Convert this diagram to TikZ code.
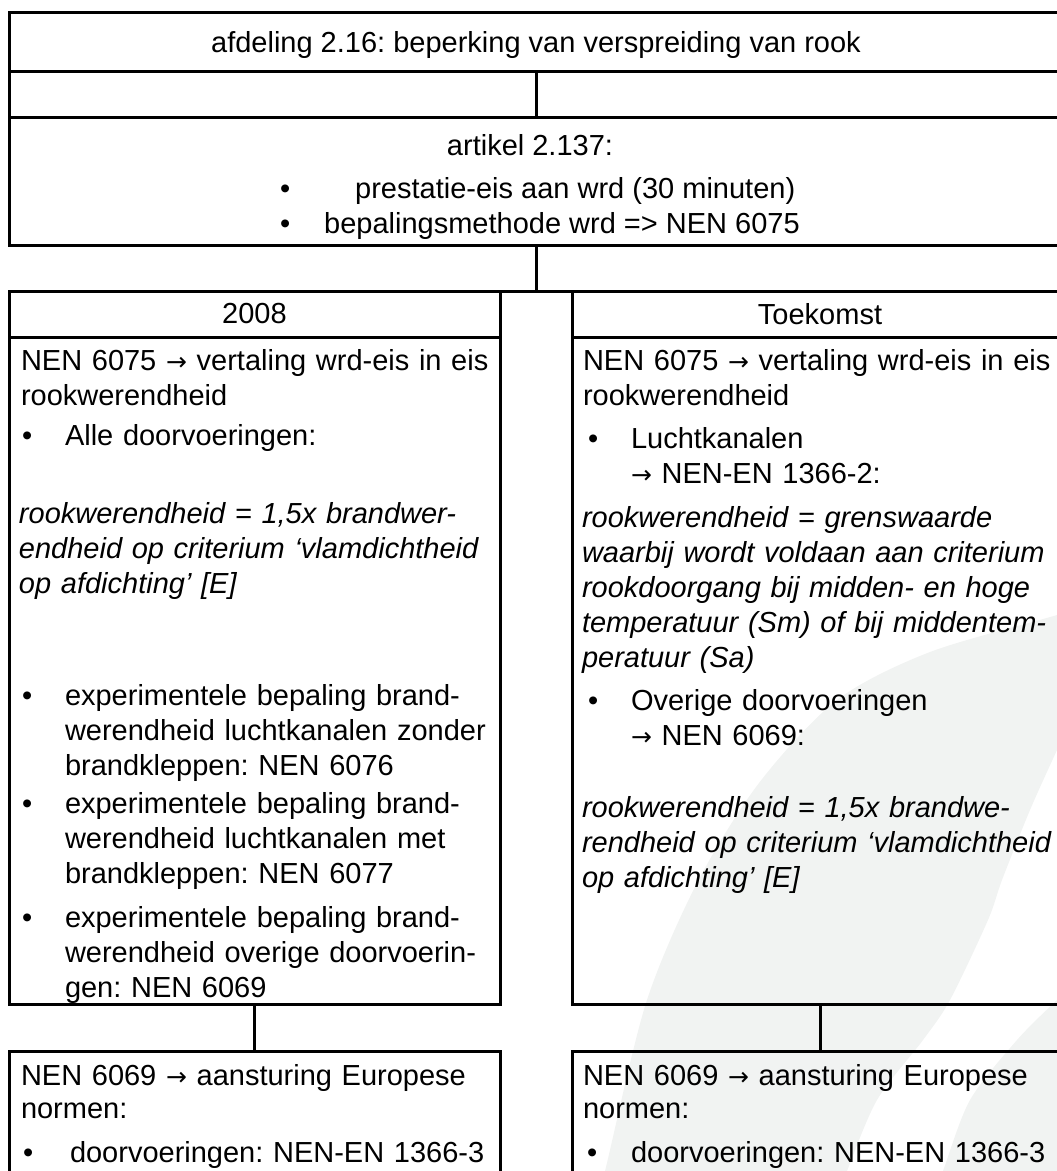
\documentclass[tikz,border=0pt]{standalone}
\usepackage{fontspec}
\setmainfont{Liberation Sans}
\newfontfamily\pijlfont{DejaVu Sans}
\usetikzlibrary{positioning}
\definecolor{wmgrey}{RGB}{241,243,242}
\newcommand{\nrm}{\fontsize{29}{35}\selectfont}
\newcommand{\pijl}{{\pijlfont\fontsize{25}{35}\selectfont →}}
\frenchspacing

\begin{document}
\begin{tikzpicture}[x=1pt,y=-1pt,
  box/.style={draw,line width=3pt,rectangle,inner sep=0pt,outer sep=0pt,anchor=north west,font=\nrm},
  txt/.style={anchor=base west,inner sep=0pt,outer sep=0pt,font=\nrm,text width=700pt,align=left},
  itxt/.style={txt,font=\nrm\itshape},
  bul/.style={anchor=base west,inner sep=0pt,font=\nrm},
  conn/.style={line width=3pt}]
  \useasboundingbox (0,0) rectangle (1057,1171);
  % watermark
  \fill[wmgrey] plot[smooth] coordinates {(596,1200) (605,1171) (646,1003) (697,883) (759,783) (837,700) (930,652) (1057,615) (1100,600)}
    -- (1100,720) -- plot[smooth] coordinates {(1080,700) (1057,750) (1030,810) (1002,880) (988,920) (950,1000) (923,1040) (877,1100) (847,1171) (836,1200)} -- cycle;
  \fill[wmgrey] plot[smooth] coordinates {(932,1200) (943,1171) (970,1100) (1017,1040) (1057,1000) (1090,970)} -- (1090,1200) -- cycle;
  % afdeling
  \node[box,minimum width=1054pt,minimum height=59pt,text depth=0pt] (afd) at (9,12) {afdeling 2.16: beperking van verspreiding van rook};
  \node[box,minimum width=1054pt,minimum height=46pt,below=0pt of afd] (rij) {};
  \node[box,minimum width=1054pt,minimum height=128pt,below=0pt of rij] (art) {};
  \draw[conn] (afd.south) -- (art.north);
  \node[anchor=base,inner sep=0pt,font=\nrm] (arttitel) at (530,155) {artikel 2.137:};
  \node[bul] (artb1) at (280,198) {•};
  \node[bul] (artt1) at (355,198) {prestatie-eis aan wrd (30 minuten)};
  \node[bul] (artb2) at (280,233) {•};
  \node[bul] (artt2) at (324,233) {bepalingsmethode wrd => NEN 6075};
  % 2008
  \node[box,minimum width=491pt,minimum height=46pt] (kop08) at (9,291) {2008};
  \node[box,minimum width=491pt,minimum height=667pt,below=0pt of kop08] (romp08) {};
  \node[txt] (a1) at (21,370) {NEN 6075 \pijl{} vertaling wrd-eis in eis\\rookwerendheid};
  \node[bul] (ab1) at (22,445) {•};
  \node[txt] (a2) at (65,445) {Alle doorvoeringen:};
  \node[itxt] (a3) at (19,523) {rookwerendheid = 1,5x brandwer-\\endheid op criterium ‘vlamdichtheid\\op afdichting’ [E]};
  \node[bul] (ab2) at (22,705) {•};
  \node[txt] (a4) at (65,705) {experimentele bepaling brand-\\werendheid luchtkanalen zonder\\brandkleppen: NEN 6076};
  \node[bul] (ab3) at (22,813) {•};
  \node[txt] (a5) at (65,813) {experimentele bepaling brand-\\werendheid luchtkanalen met\\brandkleppen: NEN 6077};
  \node[bul] (ab4) at (22,927) {•};
  \node[txt] (a6) at (65,927) {experimentele bepaling brand-\\werendheid overige doorvoerin-\\gen: NEN 6069};
  % toekomst
  \node[box,minimum width=496pt,minimum height=46pt] (koptk) at (572,291) {Toekomst};
  \node[box,minimum width=496pt,minimum height=667pt,below=0pt of koptk] (romptk) {};
  \node[txt] (t1) at (583,370) {NEN 6075 \pijl{} vertaling wrd-eis in eis\\rookwerendheid};
  \node[bul] (tb1) at (588,448) {•};
  \node[txt] (t2) at (631,448) {Luchtkanalen\\\pijl{} NEN-EN 1366-2:};
  \node[itxt] (t3) at (582,527) {rookwerendheid = grenswaarde\\waarbij wordt voldaan aan criterium\\rookdoorgang bij midden- en hoge\\temperatuur (Sm) of bij middentem-\\peratuur (Sa)};
  \node[bul] (tb2) at (588,710) {•};
  \node[txt] (t4) at (631,710) {Overige doorvoeringen\\\pijl{} NEN 6069:};
  \node[itxt] (t5) at (582,817) {rookwerendheid = 1,5x brandwe-\\rendheid op criterium ‘vlamdichtheid\\op afdichting’ [E]};
  % connectors
  \draw[conn] (art.south) -- (art.south |- kop08.north);
  \draw[conn] (kop08.north east) -- (koptk.north west);
  % europese normen
  \node[box,minimum width=491pt,minimum height=150pt] (eu08) at (9,1051) {};
  \node[box,minimum width=496pt,minimum height=150pt] (eutk) at (572,1051) {};
  \draw[conn] (romp08.south) -- (eu08.north);
  \draw[conn] (romptk.south) -- (eutk.north);
  \node[txt] (e1) at (21,1085) {NEN 6069 \pijl{} aansturing Europese\\[-2pt]normen:};
  \node[bul] (eb1) at (23,1162) {•};
  \node[txt] (e2) at (70,1162) {doorvoeringen: NEN-EN 1366-3};
  \node[txt] (f1) at (583,1085) {NEN 6069 \pijl{} aansturing Europese\\[-2pt]normen:};
  \node[bul] (fb1) at (587,1162) {•};
  \node[txt] (f2) at (631,1162) {doorvoeringen: NEN-EN 1366-3};
\end{tikzpicture}
\end{document}
